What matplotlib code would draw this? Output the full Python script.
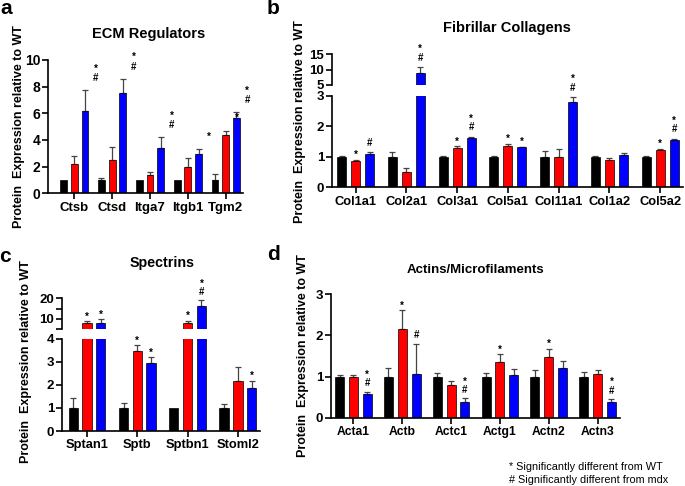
import matplotlib
matplotlib.use('Agg')
import matplotlib.pyplot as plt
import numpy as np

plt.rcParams['font.family'] = ['Liberation Sans', 'DejaVu Sans']

# ---------------- data ----------------
genes_a = ['Ctsb', 'Ctsd', 'Itga7', 'Itgb1', 'Tgm2']
wt_a = [1.0, 1.0, 1.0, 1.0, 1.0]
wt_err_a = [0.0, 0.15, 0.0, 0.0, 0.42]
mdx_a = [2.2, 2.5, 1.4, 2.0, 4.37]
mdx_err_a = [0.58, 1.0, 0.22, 0.65, 0.33]
trt_a = [6.2, 7.5, 3.4, 2.97, 5.67]
trt_err_a = [1.55, 1.1, 0.8, 0.35, 0.4]
sig_right_a = ['*#', '*#', '*#', '*', '*#']
sig_trt_a = ['', '', '', '', '*']

genes_b = ['Col1a1', 'Col2a1', 'Col3a1', 'Col5a1', 'Col11a1', 'Col1a2', 'Col5a2']
wt_b = [1.0, 1.0, 1.0, 1.0, 1.0, 1.0, 1.0]
wt_err_b = [0.02, 0.17, 0.02, 0.02, 0.18, 0.02, 0.02]
mdx_b = [0.87, 0.5, 1.3, 1.36, 1.0, 0.9, 1.23]
mdx_err_b = [0.04, 0.14, 0.05, 0.07, 0.25, 0.05, 0.04]
trt_b = [1.08, 8.8, 1.62, 1.31, 2.81, 1.05, 1.55]
trt_err_b = [0.07, 2.0, 0.04, 0.03, 0.15, 0.08, 0.05]
sig_mdx_b = ['*', '', '*', '*', '', '', '*']
sig_trt_b = ['#', '*#', '*#', '*', '*#', '', '*#']

genes_c = ['Sptan1', 'Sptb', 'Sptbn1', 'Stoml2']
wt_c = [1.0, 1.0, 1.0, 1.0]
wt_err_c = [0.44, 0.22, 0.0, 0.17]
mdx_c = [7.7, 3.47, 7.8, 2.17]
mdx_err_c = [1.0, 0.25, 1.2, 0.62]
trt_c = [8.1, 2.96, 16.4, 1.85]
trt_err_c = [1.7, 0.24, 2.6, 0.33]
sig_mdx_c = ['*', '*', '*', '']
sig_trt_c = ['*', '*', '*#', '*']

genes_d = ['Acta1', 'Actb', 'Actc1', 'Actg1', 'Actn2', 'Actn3']
wt_d = [1.0, 1.0, 1.0, 1.0, 1.0, 1.0]
wt_err_d = [0.03, 0.2, 0.08, 0.08, 0.15, 0.12]
mdx_d = [1.0, 2.15, 0.8, 1.35, 1.48, 1.06]
mdx_err_d = [0.03, 0.47, 0.1, 0.19, 0.2, 0.09]
trt_d = [0.58, 1.07, 0.38, 1.03, 1.2, 0.38]
trt_err_d = [0.05, 0.73, 0.09, 0.15, 0.19, 0.07]
sig_mdx_d = ['', '*', '', '*', '*', '']
sig_trt_d = ['*#', '#', '*#', '', '', '*#']

# ---------------- layout helpers ----------------
W, H = 685, 486
fig = plt.figure(figsize=(W / 100, H / 100), dpi=100)
PX = 0.72  # points per pixel

RED = '#ff0000'
BLUE = '#0000ff'
BLK = '#000000'
ECOL = '#444444'


def rect(l, t, r, b):
    return [l / W, 1 - b / H, (r - l) / W, (b - t) / H]


def style(ax, bottom=True, ylabsize=9.5):
    ax.spines['top'].set_visible(False)
    ax.spines['right'].set_visible(False)
    ax.spines['left'].set_linewidth(1.2)
    ax.patch.set_alpha(0)
    ax.tick_params(axis='y', length=4, width=1.2, labelsize=ylabsize, pad=1.5)
    if bottom:
        ax.spines['bottom'].set_linewidth(1.2)
        ax.tick_params(axis='x', length=4, width=1.2, pad=2)
    else:
        ax.spines['bottom'].set_visible(False)
        ax.tick_params(axis='x', bottom=False, labelbottom=False)
    for lab in ax.get_yticklabels() + ax.get_xticklabels():
        lab.set_fontweight('bold')


def bars(ax, n, series, off, width):
    x = np.arange(n)
    for k, (vals, errs, col) in enumerate(series):
        xs = x + (k - 1) * off
        ax.bar(xs, vals, width=width, color=col, edgecolor='black',
               linewidth=0.5, zorder=2)
        errs = np.asarray(errs)
        m = errs > 0
        if m.any():
            ax.errorbar(xs[m], np.asarray(vals)[m],
                        yerr=[np.zeros(m.sum()), errs[m]], fmt='none',
                        ecolor=ECOL, elinewidth=0.9, capsize=2.2,
                        capthick=0.9, zorder=1)


def mark(ax, x, y, s, hash_base, star_single, star_stack, size=7):
    chars = list(reversed(s))
    for i, ch in enumerate(chars):
        if ch == '#':
            dy = hash_base
        elif i == 0:
            dy = star_single
        else:
            dy = star_stack
        ax.annotate(ch, (x, y), xytext=(0, dy * PX), textcoords='offset points',
                    ha='center', va='baseline', fontsize=size,
                    fontweight='bold', annotation_clip=False)


YLAB = 'Protein  Expression relative to WT'

# ---------------- panel a ----------------
axa = fig.add_axes(rect(48, 60, 243.3, 193.3))
offa, wa = 0.283, 0.18
bars(axa, 5, [(wt_a, wt_err_a, BLK), (mdx_a, mdx_err_a, RED),
              (trt_a, trt_err_a, BLUE)], offa, wa)
axa.set_xlim(-0.695, 4.465)
axa.set_ylim(0, 10)
axa.set_yticks([0, 2, 4, 6, 8, 10])
axa.set_xticks(range(5))
axa.set_xticklabels(genes_a, fontsize=9.5)
style(axa, ylabsize=10)
for i in range(5):
    cap = trt_a[i] + trt_err_a[i]
    if sig_right_a[i]:
        mark(axa, i + 2 * offa, cap, sig_right_a[i], 9, 9.5, 18.5)
    if sig_trt_a[i]:
        mark(axa, i + offa, cap, sig_trt_a[i], 0, -8, 0)

# ---------------- panel b ----------------
xlb = (-0.469, 6.447)
offb, wb = 0.276, 0.18
ser_b = [(wt_b, wt_err_b, BLK), (mdx_b, mdx_err_b, RED), (trt_b, trt_err_b, BLUE)]
axb = fig.add_axes(rect(331.7, 96, 683, 187.3))
bars(axb, 7, ser_b, offb, wb)
axb.set_xlim(*xlb)
axb.set_ylim(0, 3)
axb.set_yticks([0, 1, 2, 3])
axb.set_xticks(range(7))
axb.set_xticklabels(genes_b, fontsize=9.3)
style(axb)
axb2 = fig.add_axes(rect(331.7, 54.3, 683, 85))
bars(axb2, 7, ser_b, offb, wb)
axb2.set_xlim(*xlb)
axb2.set_ylim(5, 15)
axb2.set_yticks([5, 10, 15])
style(axb2, bottom=False)
for i in range(7):
    for k, (vals, errs, sig) in enumerate([(mdx_b, mdx_err_b, sig_mdx_b),
                                           (trt_b, trt_err_b, sig_trt_b)]):
        if not sig[i]:
            continue
        cap = vals[i] + errs[i]
        ax = axb2 if cap > 3 else axb
        mark(ax, i + k * offb, cap, sig[i], 6.5, 1.5, 15)

# ---------------- panel c ----------------
xlc = (-0.497, 3.44)
offc, wc = 0.274, 0.185
ser_c = [(wt_c, wt_err_c, BLK), (mdx_c, mdx_err_c, RED), (trt_c, trt_err_c, BLUE)]
axc = fig.add_axes(rect(62, 338.7, 260, 431))
bars(axc, 4, ser_c, offc, wc)
axc.set_xlim(*xlc)
axc.set_ylim(0, 4)
axc.set_yticks([0, 1, 2, 3, 4])
axc.set_xticks(range(4))
axc.set_xticklabels(genes_c, fontsize=9.3)
style(axc)
axc2 = fig.add_axes(rect(62, 298.3, 260, 329))
bars(axc2, 4, ser_c, offc, wc)
axc2.set_xlim(*xlc)
axc2.set_ylim(5, 20)
axc2.set_yticks([5, 10, 15, 20])
axc2.set_yticklabels(['', '10', '', '20'])
style(axc2, bottom=False)
for i in range(4):
    for k, (vals, errs, sig) in enumerate([(mdx_c, mdx_err_c, sig_mdx_c),
                                           (trt_c, trt_err_c, sig_trt_c)]):
        if not sig[i]:
            continue
        cap = vals[i] + errs[i]
        ax = axc2 if cap > 4 else axc
        mark(ax, i + k * offc, cap, sig[i], 5.5, 1.5, 14)

# ---------------- panel d ----------------
axd = fig.add_axes(rect(330.7, 294.3, 620, 417.7))
offd, wd = 0.283, 0.185
bars(axd, 6, [(wt_d, wt_err_d, BLK), (mdx_d, mdx_err_d, RED),
              (trt_d, trt_err_d, BLUE)], offd, wd)
axd.set_xlim(-0.467, 5.46)
axd.set_ylim(0, 3)
axd.set_yticks([0, 1, 2, 3])
axd.set_xticks(range(6))
axd.set_xticklabels(genes_d, fontsize=8.7)
style(axd)
for i in range(6):
    for k, (vals, errs, sig) in enumerate([(mdx_d, mdx_err_d, sig_mdx_d),
                                           (trt_d, trt_err_d, sig_trt_d)]):
        if not sig[i]:
            continue
        cap = vals[i] + errs[i]
        mark(axd, i + k * offd, cap, sig[i], 5.5, 1.5, 14)

# ---------------- texts ----------------
def ftext(x, y, s, **kw):
    fig.text(x / W, 1 - y / H, s, **kw)

ftext(149, 34, 'ECM Regulators', ha='center', va='center', fontsize=10.5, fontweight='bold')
ftext(507, 28, 'Fibrillar Collagens', ha='center', va='center', fontsize=10.5, fontweight='bold')
ftext(162, 262.5, 'Spectrins', ha='center', va='center', fontsize=10.3, fontweight='bold')
ftext(475, 270, 'Actins/Microfilaments', ha='center', va='center', fontsize=9.5, fontweight='bold')

ftext(19, 127, YLAB, rotation=90, ha='center', va='center', fontsize=9, fontweight='bold')
ftext(300, 122, YLAB, rotation=90, ha='center', va='center', fontsize=9, fontweight='bold')
ftext(26, 362, YLAB, rotation=90, ha='center', va='center', fontsize=9, fontweight='bold')
ftext(303, 356, YLAB, rotation=90, ha='center', va='center', fontsize=9, fontweight='bold')

ftext(6, 9, 'a', ha='center', va='center', fontsize=15, fontweight='bold')
ftext(273, 9, 'b', ha='center', va='center', fontsize=15, fontweight='bold')
ftext(5, 257, 'c', ha='center', va='center', fontsize=15, fontweight='bold')
ftext(273, 255, 'd', ha='center', va='center', fontsize=15, fontweight='bold')

ftext(509, 466.7, '* Significantly different from WT', ha='left', va='center', fontsize=7.8)
ftext(509, 480, '# Significantly different from mdx', ha='left', va='center', fontsize=7.8)

fig.savefig('out.png', dpi=100)
